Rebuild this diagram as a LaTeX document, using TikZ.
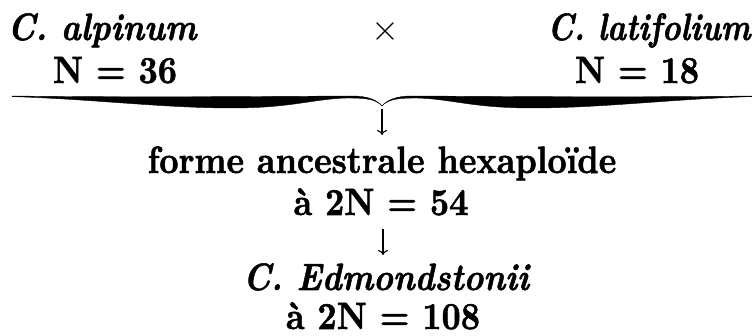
\documentclass[tikz,border=0pt]{standalone}
\usepackage{fontspec}
\setmainfont{lmroman10-regular.otf}[
  BoldFont=lmroman10-bold.otf,
  ItalicFont=lmroman10-italic.otf,
  BoldItalicFont=lmroman10-bolditalic.otf,
  BoldFeatures={FakeBold=1.5},
  BoldItalicFeatures={FakeBold=1.5}]
\usepackage{graphicx}
\usetikzlibrary{arrows.meta}
\newcommand{\sq}[2][0.88]{\scalebox{#1}[1]{#2}}
\tikzset{
  lbl/.style={font=\fontsize{38}{40}\selectfont\bfseries, inner sep=0pt, anchor=base},
  ilbl/.style={font=\fontsize{38}{40}\selectfont\bfseries\itshape, inner sep=0pt, anchor=base},
  arr/.style={line width=1.1pt, -{Computer Modern Rightarrow[length=5pt,width=10pt,line width=1.1pt]}},
  bracefill/.style={fill=black, draw=black, line width=0.4pt}
}
\begin{document}
\begin{tikzpicture}[x=1pt,y=-1pt]
\useasboundingbox (0,0) rectangle (752,336);
% parents
\node[ilbl] (alp) at (102,40) {\sq{C. alpinum}};
\node[lbl] (n36) at (115,83) {\sq{N = 36}};
\node[inner sep=0pt, font=\fontsize{36}{40}\selectfont] (cross) at (385,32) {×};
\node[ilbl] (lat) at (649,40) {\sq[0.83]{C. latifolium}};
\node[lbl] (n18) at (637,83) {\sq{N = 18}};
% brace
\coordinate (tip) at (382,106);
\begin{scope}[shift={(382,0)}]
  \foreach \s in {1,-1}{
  \begin{scope}[xscale=\s]
  \fill[bracefill] (-370,96) .. controls (-250,97.5) and (-120,96.5) .. (-30,96)
     .. controls (-14,96) and (-5,100) .. (0,106)
     .. controls (-6,99.5) and (-14,98) .. (-35,98)
     .. controls (-70,99) and (-90,108) .. (-150,108)
     .. controls (-220,108) and (-290,99) .. (-370,96.6) -- cycle;
  \end{scope}}
\end{scope}
% hybrid
\node[lbl] (anc) at (382,173) {\sq{forme ancestrale hexaploïde}};
\node[lbl] (anc2) at (381,215) {\sq{à 2N = 54}};
\node[ilbl] (edm) at (386,290) {\sq{C. Edmondstonii}};
\node[lbl] (edm2) at (383,329) {\sq{à 2N = 108}};
\coordinate (a1s) at (382,109);
\coordinate (a1e) at (382,135);
\coordinate (a2s) at (383,229);
\coordinate (a2e) at (383,255);
\draw[arr] (a1s) -- (a1e);
\draw[arr] (a2s) -- (a2e);
\end{tikzpicture}
\end{document}
